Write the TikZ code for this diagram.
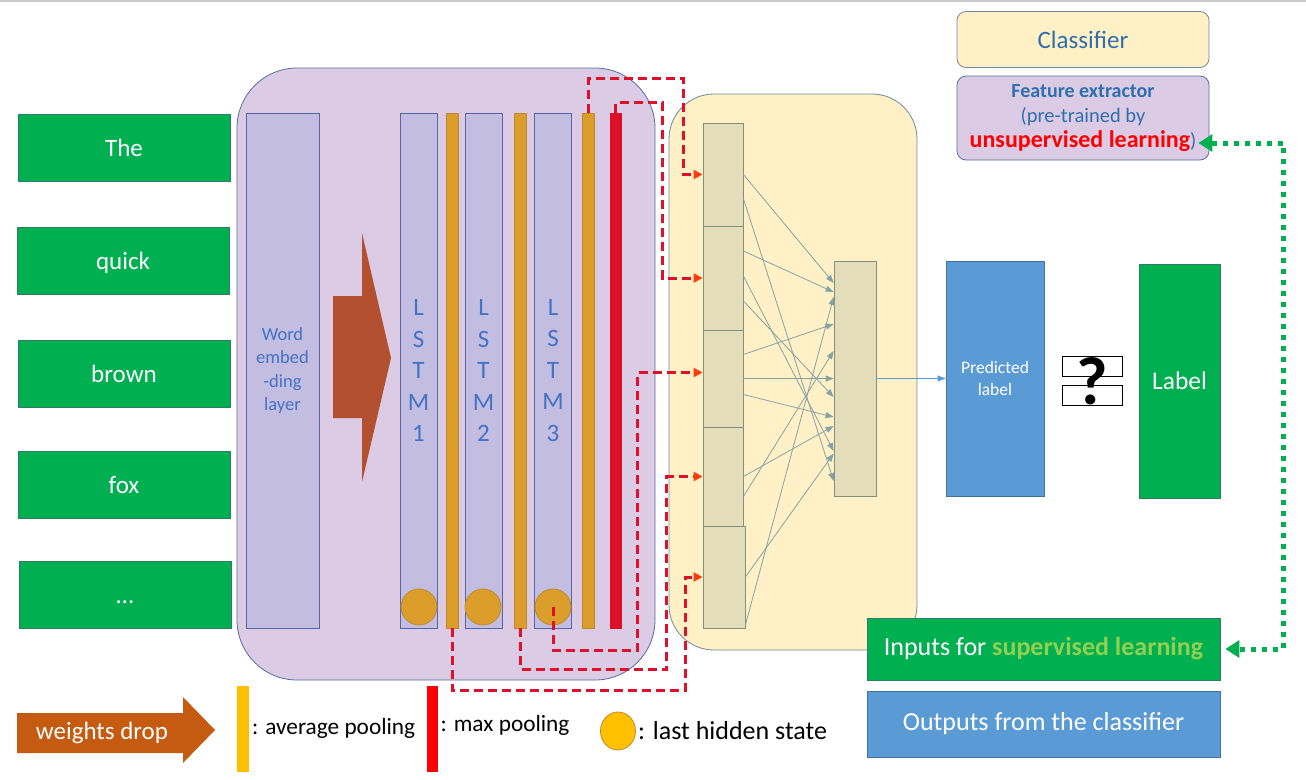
\documentclass[tikz,border=0pt]{standalone}
\usepackage{fontspec}
\setmainfont{Carlito}
\usetikzlibrary{arrows.meta, shapes.geometric}

\definecolor{wgreen}{HTML}{00B050}
\definecolor{wline}{HTML}{2E7E67}
\definecolor{fefill}{HTML}{DCCBE4}
\definecolor{feline}{HTML}{566E9C}
\definecolor{lfill}{HTML}{C2BDE1}
\definecolor{lline}{HTML}{5466A8}
\definecolor{ltext}{HTML}{4472C4}
\definecolor{avgfill}{HTML}{DB9E2B}
\definecolor{avgline}{HTML}{BF8A2A}
\definecolor{maxfill}{HTML}{DC1028}
\definecolor{clsfill}{HTML}{FFF0C6}
\definecolor{clsline}{HTML}{6E8A9E}
\definecolor{cfill}{HTML}{E3DDB9}
\definecolor{cline}{HTML}{7F8F80}
\definecolor{netline}{HTML}{86A2A8}
\definecolor{poolred}{HTML}{E0102A}
\definecolor{tipred}{HTML}{FF3B10}
\definecolor{predblue}{HTML}{5B9BD5}
\definecolor{predline}{HTML}{41719C}
\definecolor{legyellow}{HTML}{FFC000}
\definecolor{legred}{HTML}{FF0000}
\definecolor{dropbrown}{HTML}{C55A11}
\definecolor{bigarrow}{HTML}{B3502F}
\definecolor{clstext}{HTML}{2F6FAE}
\definecolor{supgreen}{HTML}{92D050}

\begin{document}
\begin{tikzpicture}[x=1pt, y=-1pt, align=center, inner sep=0pt,
  box/.style={rectangle, draw, line width=0.8pt},
  word/.style={box, draw=wline, fill=wgreen, text=white, minimum width=212pt, minimum height=67pt, font=\fontsize{25}{28}\selectfont, text height=20pt, text depth=3pt},
  lstm/.style={box, draw=lline, fill=lfill, text=ltext, minimum width=37pt, minimum height=515pt, font=\fontsize{25}{31.5}\selectfont},
  avgbar/.style={box, draw=avgline, fill=avgfill, minimum width=12pt, minimum height=515pt},
  maxbar/.style={box, draw=maxfill, fill=maxfill, minimum width=11pt, minimum height=515pt},
  hidstate/.style={circle, draw=avgline, fill=avgfill, minimum size=36pt, line width=0.8pt},
  cell/.style={box, draw=cline, fill=cfill, minimum width=40pt},
  net/.style={netline, line width=0.8pt, -{Triangle[length=8pt,width=6pt]}},
  pool/.style={poolred, line width=3pt, dash pattern=on 9pt off 5pt, -{Triangle[length=9pt,width=9pt,color=tipred]}},
  gdot/.style={wgreen, line width=5pt, dash pattern=on 5pt off 6pt, {Triangle[length=14pt,width=17pt]}-{Triangle[length=14pt,width=17pt]}},
  legbox/.style={box, rounded corners=9pt, minimum width=252pt},
  bigbox/.style={box, minimum width=353pt, text=white, font=\fontsize{26}{30}\selectfont},
  legtext/.style={anchor=west, font=\fontsize{23.3}{27}\selectfont}]

\useasboundingbox (0,0) rectangle (1306,779);
\draw[black!20, line width=1.5pt] (0,0.75) -- (1306,0.75);

\path (446,374) node[box, draw=feline, fill=fefill, minimum width=418pt, minimum height=612pt, rounded corners=60pt] (fe) {}
      (793,372) node[box, draw=clsline, fill=clsfill, minimum width=248pt, minimum height=556pt, rounded corners=45pt] (cls) {};

\path (124,147.5) node[word] (w1) {The}
      (123,261) node[word] (w2) {quick}
      (124,374) node[word] (w3) {brown}
      (124,485) node[word] (w4) {fox}
      (125,595) node[word] (w5) {…};

\path (282.5,370.5) node[lstm, minimum width=73pt, font=\fontsize{18.5}{23.5}\selectfont] (emb) {Word\\embed\\-ding\\layer}
      (418.5,370.5) node[lstm] (l1) {L\\S\\T\\M\\1}
      (483.5,370.5) node[lstm] (l2) {L\\S\\T\\M\\2}
      (553,370.5) node[lstm] (l3) {L\\S\\T\\M\\3}
      (452,370.5) node[avgbar] (b1) {}
      (520.5,370.5) node[avgbar] (b2) {}
      (588,370.5) node[avgbar] (b3) {}
      (615.5,370.5) node[maxbar] (mx) {}
      (419,607) node[hidstate] (c1) {}
      (483,607) node[hidstate] (c2) {}
      (553,607) node[hidstate] (c3) {};

\fill[bigarrow] (333,296) -- (362,296) -- (362,233) -- (391,358) -- (362,482) -- (362,418) -- (333,418) -- cycle;

\path (723,174.5) node[cell, minimum height=103pt] (in1) {}
      (723,278) node[cell, minimum height=104pt] (in2) {}
      (723,378.5) node[cell, minimum height=97pt] (in3) {}
      (723,476.5) node[cell, minimum height=99pt] (in4) {}
      (724,577) node[cell, minimum height=102pt, minimum width=42pt] (in5) {}
      (855,378.5) node[cell, minimum height=235pt, minimum width=42pt] (hid) {};

\foreach \k/\a/\b in {1/0/95.5, 1/-24/-102.5, 2/27/86.5, 2/2/-72.5, 2/-23/-18.5, 3/24/54.5,
                      3/0/0, 3/-16/-38.5, 4/0/-47.5, 4/-20/27.5, 5/0/-75, 5/-48/81.5}
  \draw[net] ([yshift=\a pt]in\k.east) -- ([yshift=\b pt]hid.west);

\draw[pool] (b3.north) -- ++(0,-34) -| ([xshift=-19pt]in1.west) -- (in1.west);
\draw[pool] (mx.north) -- ++(0,-10) -| ([xshift=-40pt]in2.west) -- (in2.west);
\draw[pool] (c3.center) -- ++(0,43) -| ([xshift=-65pt,yshift=6pt]in3.west) -- ([yshift=6pt]in3.west);
\draw[pool] (b2.south) -- ++(0,41) -| ([xshift=-36pt]in4.west) -- (in4.west);
\draw[pool] (b1.south) -- ++(0,62) -| ([xshift=-17pt]in5.west) -- (in5.west);

\path (995,378.5) node[box, draw=predline, fill=predblue, minimum width=98pt, minimum height=235pt, text=white, font=\fontsize{17.5}{22}\selectfont] (pred) {Predicted\\label}
      (1092,366) node[box, draw=black, fill=white, minimum width=60pt, minimum height=20pt] (q1) {}
      (1092,395) node[box, draw=black, fill=white, minimum width=60pt, minimum height=20pt] (q2) {}
      (1092,381) node[font=\fontsize{68}{70}\selectfont\bfseries] (qm) {?}
      (1179.5,381) node[box, draw=wline, fill=wgreen, minimum width=81pt, minimum height=234pt, text=white, font=\fontsize{25.5}{28}\selectfont] (lab) {Label};

\draw[predblue, line width=0.8pt, -{Triangle[length=8pt,width=6pt]}] (hid.east) -- (pred.west);

\path (1083,39.5) node[legbox, draw=clsline, fill=clsfill, minimum height=56pt, text=clstext, font=\fontsize{25}{28}\selectfont] (clsleg) {Classifier}
      (1083,118) node[legbox, draw=feline, fill=fefill, minimum height=84pt, text=clstext, font=\fontsize{20.5}{25}\selectfont] (fx)
        {{\fontsize{20}{25}\selectfont\bfseries Feature extractor}\\(pre-trained by\\{\fontsize{24}{25}\selectfont\bfseries\color{legred}unsupervised learning})}
      (1043.5,649) node[bigbox, draw=wline, fill=wgreen, minimum height=62pt] (inp) {Inputs for \textbf{\color{supgreen}supervised learning}}
      (1043.5,724) node[bigbox, draw=predline, fill=predblue, minimum height=66pt] (outp) {Outputs from the classifier};

\draw[gdot] ([xshift=-11pt,yshift=-25pt]fx.east) -- ++(85,0) |- ([xshift=5pt]inp.east);

\fill[dropbrown] (17,713) -- (183,713) -- (183,697) -- (215,730) -- (183,763) -- (183,753) -- (17,753) -- cycle;
\path (102,733) node[text=white, font=\fontsize{25}{28}\selectfont] (drop) {weights drop}
      (243,728.5) node[box, draw=legyellow, fill=legyellow, minimum width=11pt, minimum height=85pt] (avgleg) {}
      (432,728.5) node[box, draw=legred, fill=legred, minimum width=10pt, minimum height=85pt] (maxleg) {}
      (618,731) node[ellipse, draw=avgline, fill=legyellow, minimum width=35pt, minimum height=38pt, line width=0.8pt] (hidleg) {}
      ([xshift=3pt]avgleg.east) node[legtext] (avgtext) {: average pooling}
      ([xshift=3pt,yshift=3pt]maxleg.east) node[legtext] (maxtext) {: max pooling}
      ([xshift=2pt]hidleg.east) node[legtext, font=\fontsize{26}{30}\selectfont] (hidtext) {: last hidden state};
\end{tikzpicture}
\end{document}
